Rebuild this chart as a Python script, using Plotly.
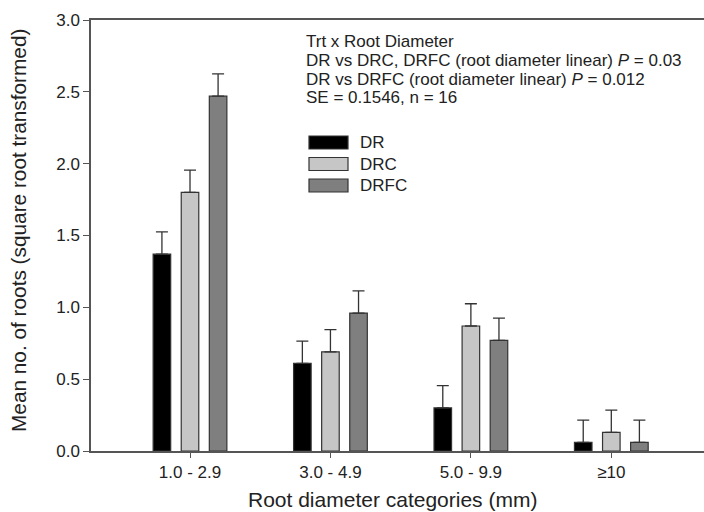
import plotly.graph_objects as go

categories = ["1.0 - 2.9", "3.0 - 4.9", "5.0 - 9.9", "\u226510"]
dr = [1.37, 0.61, 0.30, 0.06]
drc = [1.80, 0.69, 0.87, 0.13]
drfc = [2.47, 0.96, 0.77, 0.06]
se_dr = [0.155, 0.155, 0.155, 0.155]
se_drc = [0.155, 0.155, 0.155, 0.155]
se_drfc = [0.155, 0.155, 0.155, 0.155]
series_names = ["DR", "DRC", "DRFC"]
colors = ["#000000", "#c6c6c6", "#7f7f7f"]

W, H = 704, 512
L, R, T, B = 91, 0, 20, 61
PW, PH = W - L - R, H - T - B

def px(x):
    return (x - L) / PW

def py(y):
    return (H - B - y) / PH

FONT = "Liberation Sans, Arial, sans-serif"

fig = go.Figure()
for name, vals, err, col in zip(series_names, [dr, drc, drfc], [se_dr, se_drc, se_drfc], colors):
    fig.add_trace(go.Bar(
        x=categories, y=vals, name=name,
        marker=dict(color=col, line=dict(color="#333333", width=1.2)),
        error_y=dict(type="data", array=err, arrayminus=[0] * len(err), symmetric=False,
                     color="#333333", thickness=1.3, width=6),
        showlegend=False,
    ))

annotations = []
# stats text
lines = ["Trt x Root Diameter",
         "DR vs DRC, DRFC (root diameter linear) <i>P</i> = 0.03",
         "DR vs DRFC (root diameter linear) <i>P</i> = 0.012",
         "SE = 0.1546, n = 16"]
for i, t in enumerate(lines):
    annotations.append(dict(text=t, x=px(304), y=py(41 + 19 * i), xref="paper", yref="paper",
                            xanchor="left", yanchor="middle", showarrow=False,
                            font=dict(family=FONT, size=17, color="#222222")))

# manual legend
shapes = []
rows = [(136, 149), (157.5, 170.5), (179, 192)]
for (y0, y1), name, col in zip(rows, series_names, colors):
    shapes.append(dict(type="rect", xref="paper", yref="paper",
                       x0=px(309), x1=px(348), y0=py(y1), y1=py(y0),
                       fillcolor=col, line=dict(color="#333333", width=1.2)))
    annotations.append(dict(text=name, x=px(358), y=py((y0 + y1) / 2), xref="paper", yref="paper",
                            xanchor="left", yanchor="middle", showarrow=False,
                            font=dict(family=FONT, size=17, color="#222222")))

# axis titles
annotations.append(dict(text="Root diameter categories (mm)", x=px(392), y=py(499),
                        xref="paper", yref="paper", xanchor="center", yanchor="middle",
                        showarrow=False, font=dict(family=FONT, size=21, color="#222222")))
annotations.append(dict(text="Mean no. of roots (square root transformed)", x=px(19), y=py(231),
                        xref="paper", yref="paper", xanchor="center", yanchor="middle",
                        textangle=-90, showarrow=False,
                        font=dict(family=FONT, size=20.8, color="#222222")))

fig.update_layout(
    width=W, height=H,
    margin=dict(l=L, r=R, t=T, b=B),
    paper_bgcolor="white", plot_bgcolor="white",
    barmode="group", bargap=0.4, bargroupgap=0.375,
    font=dict(family=FONT, size=17, color="#222222"),
    annotations=annotations, shapes=shapes,
    showlegend=False,
)
fig.update_xaxes(
    type="category", range=[-0.705, 3.66],
    showline=True, linecolor="#555555", linewidth=1.5, mirror=True,
    ticks="outside", ticklen=5, tickwidth=1.3, tickcolor="#555555",
    showgrid=False, zeroline=False,
    tickfont=dict(family=FONT, size=17, color="#222222"),
)
fig.update_yaxes(
    range=[0, 3], tickvals=[0, 0.5, 1.0, 1.5, 2.0, 2.5, 3.0],
    ticktext=["0.0", "0.5", "1.0", "1.5", "2.0", "2.5", "3.0"],
    showline=True, linecolor="#555555", linewidth=1.5,
    ticks="outside", ticklen=6, tickwidth=1.3, tickcolor="#555555",
    showgrid=False, zeroline=False,
    tickfont=dict(family=FONT, size=17, color="#222222"),
)

fig.write_html("out.html", config={"displayModeBar": False},
               post_script="document.body.style.margin='0px';")
